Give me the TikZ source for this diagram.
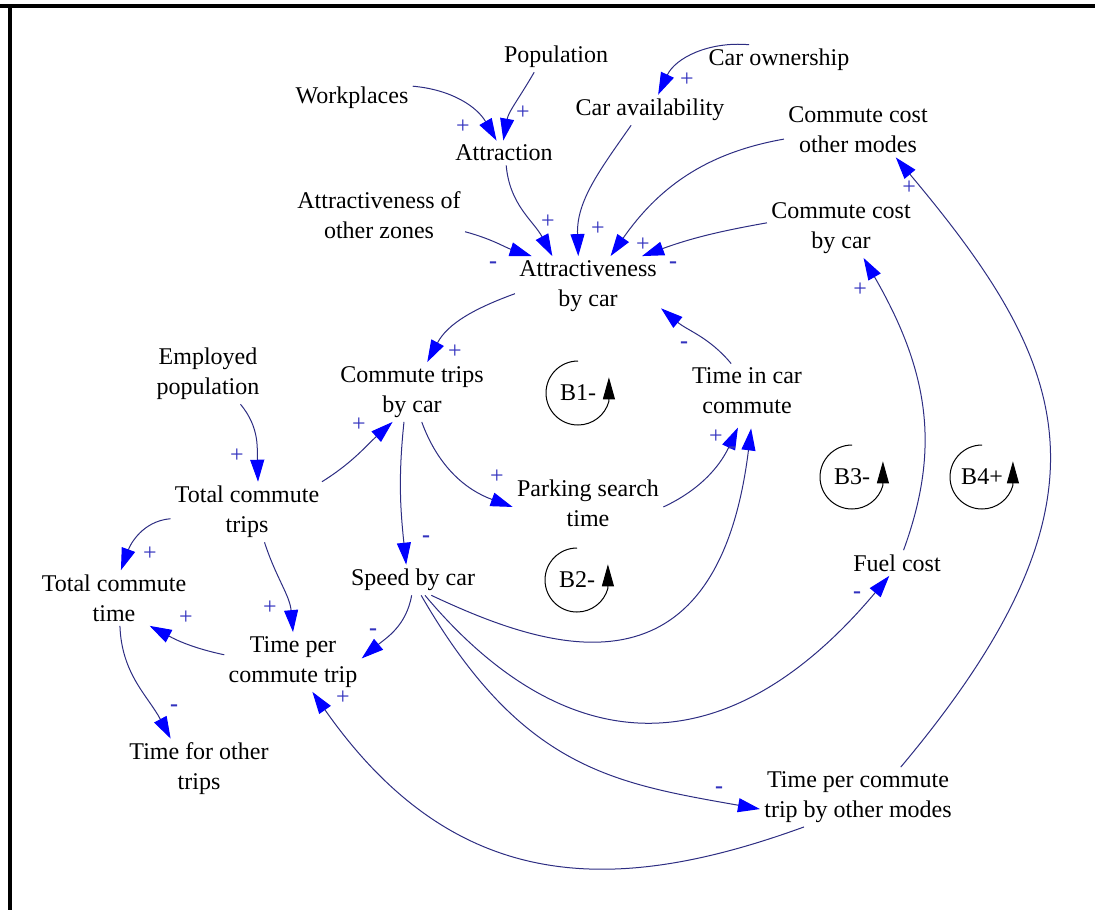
\documentclass[tikz,border=0pt]{standalone}
\usepackage{fontspec}
\setmainfont{Liberation Serif}
\usetikzlibrary{arrows.meta}
\definecolor{linkcol}{RGB}{45,45,130}
\definecolor{headcol}{RGB}{0,0,255}
\definecolor{polcol}{RGB}{50,50,190}
\begin{document}
\begin{tikzpicture}[x=0.5pt, y=-0.5pt,
  var/.style={align=center, inner sep=2pt, font=\fontsize{12pt}{15pt}\selectfont},
  link/.style={draw=linkcol, line width=0.5pt, -{Triangle[length=11pt,width=7pt,color=headcol]}},
  pol/.style={text=polcol, inner sep=0pt, font=\fontsize{12pt}{15pt}\selectfont},
  loopmark/.style={circle, minimum size=32pt, inner sep=0pt, outer sep=0pt, font=\fontsize{12pt}{15pt}\selectfont},
  loopline/.style={line width=0.5pt, -{Triangle[length=11pt,width=6pt]}}]
\useasboundingbox (0,0) rectangle (1095,910);
\fill (0,4) rectangle (1095,8);
\fill (8,4) rectangle (12,910);

% variables
\node[var] (pop) at (556,57) {Population};
\node[var] (wp) at (352,98) {Workplaces};
\node[var] (attr) at (504,153) {Attraction};
\node[var] (own) at (779,60) {Car ownership};
\node[var] (avail) at (650,110) {Car availability};
\node[var] (costoth) at (858,130) {Commute cost\\other modes};
\node[var] (othz) at (379,215) {Attractiveness of\\other zones};
\node[var] (atcar) at (588,286) {Attractiveness\\by car};
\node[var] (costcar) at (841,228) {Commute cost\\by car};
\node[var] (emp) at (208,374) {Employed\\population};
\node[var] (trips) at (412,392) {Commute trips\\by car};
\node[var] (tincar) at (747,391) {Time in car\\commute};
\node[var] (tot) at (247,512) {Total commute\\trips};
\node[var] (park) at (588,503) {Parking search\\time};
\node[var] (fuel) at (897,563) {Fuel cost};
\node[var] (speed) at (413,580) {Speed by car};
\node[var] (tottime) at (114,598) {Total commute\\time};
\node[var] (tpc) at (293,662) {Time per\\commute trip};
\node[var] (tother) at (199,769) {Time for other\\trips};
\node[var] (tpco) at (858,797) {Time per commute\\trip by other modes};

% loop markers
\node[loopmark] (b1) at (578,393) {B1-};
\node[loopmark] (b2) at (577,580) {B2-};
\node[loopmark] (b3) at (852,477) {B3-};
\node[loopmark] (b4) at (982,477) {B4+};
\draw[loopline] (b1.90) arc[start angle=90, end angle=345, radius=16pt] -- ++(0,12pt);
\draw[loopline] (b2.90) arc[start angle=90, end angle=345, radius=16pt] -- ++(0,12pt);
\draw[loopline] (b3.90) arc[start angle=90, end angle=345, radius=16pt] -- ++(0,12pt);
\draw[loopline] (b4.90) arc[start angle=90, end angle=345, radius=16pt] -- ++(0,12pt);

% links
\draw[link] (wp.11) to[out=-5,in=120] (attr.121);
\draw[link] (pop.215) to[out=240,in=80] (attr.93);
\draw[link] (own.153) to[out=175,in=65] (avail.62);
\draw[link] (attr.-80) to[out=-85,in=118] (atcar.140);
\draw[link] (avail.219) to[out=235,in=92] (atcar.108);
\draw[link] (costoth.187) to[out=190,in=55] (atcar.53);
\draw[link] (costcar.176) to[out=190,in=20] (atcar.29);
\draw[link] (othz.-11) to[out=-15,in=162] (atcar.152);
\draw[link] (atcar.186) to[out=200,in=62] (trips.63);
\draw[link] (tincar.120) to[out=130,in=-40] (atcar.-17);
\draw[link] (emp.-43) to[out=-50,in=92] (tot.70);
\draw[link] (tot.22) to[out=32,in=222] (trips.237);
\draw[link] (trips.-72) to[out=-70,in=160] (park.183);
\draw[link] (trips.-105) to[out=-96,in=96] (speed.114);
\draw[link, shorten >=5pt] (park.-3) to[out=25,in=245] (tincar.-100);
\draw[link, shorten >=5pt] (speed.-40) .. controls +(-25:57pt) and +(263:150pt) .. (tincar.-79);
\draw[link] (speed.-52) .. controls +(-50:108pt) and +(230:128pt) .. (fuel.239);
\draw[link] (speed.-62) .. controls +(-60:100pt) and +(170:75pt) .. (tpco.187);
\draw[link] (tpco.209) .. controls +(200:100pt) and +(-55:125pt) .. (tpc.-57);
\draw[link] (tpco.35) .. controls +(50:176pt) and +(-50:135pt) .. (costoth.-36);
\draw[link] (fuel.63) .. controls +(70:52pt) and +(-60:68pt) .. (costcar.-53);
\draw[link] (tot.185) to[out=185,in=70] (tottime.76);
\draw[link] (tot.-60) to[out=-72,in=95] (tpc.90);
\draw[link] (tpc.174) to[out=168,in=-28] (tottime.-38);
\draw[link] (tottime.-78) to[out=-88,in=118] (tother.133);
\draw[link] (speed.-95) to[out=-100,in=40] (tpc.3);

% polarities
\node[pol] (s1) at (463,127) {+};
\node[pol] (s2) at (523,113) {+};
\node[pol] (s3) at (687,80) {+};
\node[pol] (s4) at (548,222) {+};
\node[pol] (s5) at (598,229) {+};
\node[pol] (s6) at (643,245) {+};
\node[pol] (s7) at (673,265) {\textbf{-}};
\node[pol] (s8) at (493,265) {\textbf{-}};
\node[pol] (s9) at (455,352) {+};
\node[pol] (s10) at (684,345) {\textbf{-}};
\node[pol] (s11) at (237,456) {+};
\node[pol] (s12) at (359,425) {+};
\node[pol] (s13) at (497,477) {+};
\node[pol] (s14) at (426,539) {\textbf{-}};
\node[pol] (s15) at (716,437) {+};
\node[pol] (s16) at (732,450) {\textbf{-}};
\node[pol] (s17) at (857,595) {\textbf{-}};
\node[pol] (s18) at (719,790) {\textbf{-}};
\node[pol] (s19) at (343,698) {+};
\node[pol] (s20) at (909,188) {+};
\node[pol] (s21) at (860,290) {+};
\node[pol] (s22) at (150,554) {+};
\node[pol] (s23) at (270,608) {+};
\node[pol] (s24) at (186,618) {+};
\node[pol] (s25) at (174,708) {\textbf{-}};
\node[pol] (s26) at (373,632) {\textbf{-}};
\end{tikzpicture}
\end{document}
